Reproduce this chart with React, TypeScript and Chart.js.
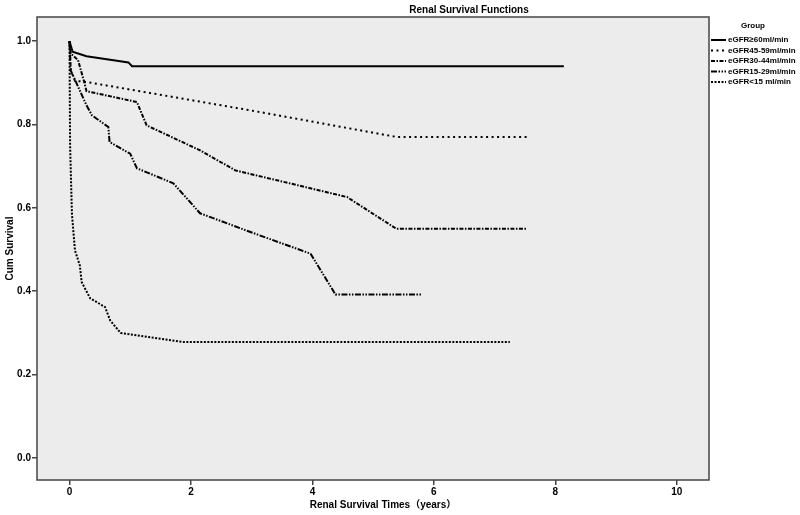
import React, { useEffect, useRef } from "react";
import { Chart, registerables } from "chart.js";

Chart.register(...registerables);

const FONT = "Arial, 'Liberation Sans', 'Noto Sans CJK SC', sans-serif";

const groupNames = ["eGFR≥60ml/min", "eGFR45-59ml/min", "eGFR30-44ml/min", "eGFR15-29ml/min", "eGFR<15 ml/min"];

const g1Times = [0, 0.05, 0.28, 0.78, 0.97, 1.03, 8.14];
const g1Surv = [1.0, 0.975, 0.964, 0.953, 0.949, 0.94, 0.94];

const g2Times = [0, 0.02, 0.09, 0.28, 2.98, 5.39, 7.54];
const g2Surv = [1.0, 0.93, 0.905, 0.902, 0.834, 0.77, 0.77];

const g3Times = [0, 0.02, 0.14, 0.24, 0.28, 1.11, 1.27, 2.15, 2.73, 4.57, 5.38, 7.54];
const g3Surv = [1.0, 0.97, 0.955, 0.903, 0.88, 0.854, 0.798, 0.738, 0.69, 0.626, 0.55, 0.55];

const g4Times = [0, 0.02, 0.28, 0.37, 0.64, 0.66, 1.0, 1.11, 1.71, 2.15, 2.98, 3.97, 4.38, 5.81];
const g4Surv = [1.0, 0.93, 0.846, 0.822, 0.794, 0.758, 0.73, 0.695, 0.659, 0.587, 0.542, 0.49, 0.392, 0.392];

const g5Times = [0, 0.01, 0.04, 0.09, 0.17, 0.2, 0.34, 0.585, 0.67, 0.84, 1.88, 7.25];
const g5Surv = [1.0, 0.75, 0.586, 0.498, 0.462, 0.422, 0.383, 0.362, 0.33, 0.3, 0.278, 0.278];

const yTickValues = [0, 0.2, 0.4, 0.6, 0.8, 1.0];
const xTickValues = [0, 2, 4, 6, 8, 10];

const dashes: number[][] = [[], [2, 3.5], [4, 1.5, 1.5, 1.5], [6, 1.5, 1.5, 1.5, 1.5, 1.5], [2, 1.5]];

function pts(t: number[], s: number[]) {
  return t.map((x, i) => ({ x, y: s[i] }));
}

const decorPlugin = {
  id: "decor",
  beforeDraw(chart: any) {
    const { ctx, chartArea: a } = chart;
    ctx.save();
    ctx.fillStyle = "#ffffff";
    ctx.fillRect(0, 0, chart.width, chart.height);
    ctx.fillStyle = "#ececec";
    ctx.fillRect(a.left, a.top, a.right - a.left, a.bottom - a.top);
    ctx.restore();
  },
  afterDraw(chart: any) {
    const { ctx, chartArea: a } = chart;
    ctx.save();
    ctx.strokeStyle = "#444";
    ctx.lineWidth = 1.5;
    ctx.strokeRect(a.left, a.top, a.right - a.left, a.bottom - a.top);

    ctx.fillStyle = "#000";
    ctx.textAlign = "center";
    ctx.textBaseline = "middle";
    ctx.font = "bold 10px " + FONT;
    ctx.fillText("Renal Survival Functions", 469, 10);
    ctx.fillText("Renal Survival Times（years）", 383, 505);

    ctx.font = "bold 8px " + FONT;
    ctx.fillText("Group", 753, 26);
    ctx.textAlign = "left";
    const ys = [40, 50.5, 61, 71.5, 82];
    chart.data.datasets.forEach((ds: any, i: number) => {
      const y = ys[i];
      ctx.save();
      ctx.strokeStyle = "#000";
      ctx.lineWidth = 2;
      ctx.setLineDash(ds.borderDash || []);
      ctx.beginPath();
      ctx.moveTo(711, y);
      ctx.lineTo(726, y);
      ctx.stroke();
      ctx.restore();
      ctx.fillText(ds.label, 728, y);
    });
    ctx.restore();
  },
};

export default function App() {
  const ref = useRef<HTMLCanvasElement | null>(null);
  useEffect(() => {
    if (!ref.current) return;
    const series = [
      [g1Times, g1Surv],
      [g2Times, g2Surv],
      [g3Times, g3Surv],
      [g4Times, g4Surv],
      [g5Times, g5Surv],
    ];
    const chart = new Chart(ref.current, {
      type: "line",
      data: {
        datasets: series.map((s, i) => ({
          label: groupNames[i],
          data: pts(s[0], s[1]),
          borderColor: "#000",
          borderWidth: 2,
          borderDash: dashes[i],
          borderCapStyle: "butt",
          pointRadius: 0,
          fill: false,
          tension: 0,
        })),
      },
      options: {
        animation: false,
        responsive: true,
        maintainAspectRatio: false,
        layout: { padding: { left: 0, right: 91, top: 17, bottom: 0 } },
        plugins: {
          legend: { display: false },
          tooltip: { enabled: false },
          title: { display: false },
        },
        scales: {
          x: {
            type: "linear",
            min: -0.535,
            max: 10.53,
            afterBuildTicks: (s: any) => {
              s.ticks = xTickValues.map((v) => ({ value: v }));
            },
            afterFit: (s: any) => {
              s.height = 35;
            },
            ticks: {
              color: "#000",
              font: { family: FONT, size: 10, weight: "bold" },
              padding: 1,
              maxRotation: 0,
              callback: (v: any) => String(v),
            },
            grid: { drawOnChartArea: false, drawTicks: true, tickLength: 5, color: "#444", lineWidth: 1.5 },
            border: { display: false },
          },
          y: {
            type: "linear",
            min: -0.053,
            max: 1.058,
            afterBuildTicks: (s: any) => {
              s.ticks = yTickValues.map((v) => ({ value: v }));
            },
            afterFit: (s: any) => {
              s.width = 37;
            },
            ticks: {
              color: "#000",
              font: { family: FONT, size: 10, weight: "bold" },
              padding: 1,
              callback: (v: any) => Number(v).toFixed(1),
            },
            grid: { drawOnChartArea: false, drawTicks: true, tickLength: 5, color: "#444", lineWidth: 1.5 },
            border: { display: false },
            title: {
              display: true,
              text: "Cum Survival",
              color: "#000",
              font: { family: FONT, size: 10, weight: "bold" },
              padding: { top: 4, bottom: 0 },
            },
          },
        },
      },
      plugins: [decorPlugin],
    } as any);
    return () => chart.destroy();
  }, []);
  return (
    <div style={{ position: "fixed", left: 0, top: 0, width: 800, height: 515, background: "#fff" }}>
      <canvas ref={ref} />
    </div>
  );
}
